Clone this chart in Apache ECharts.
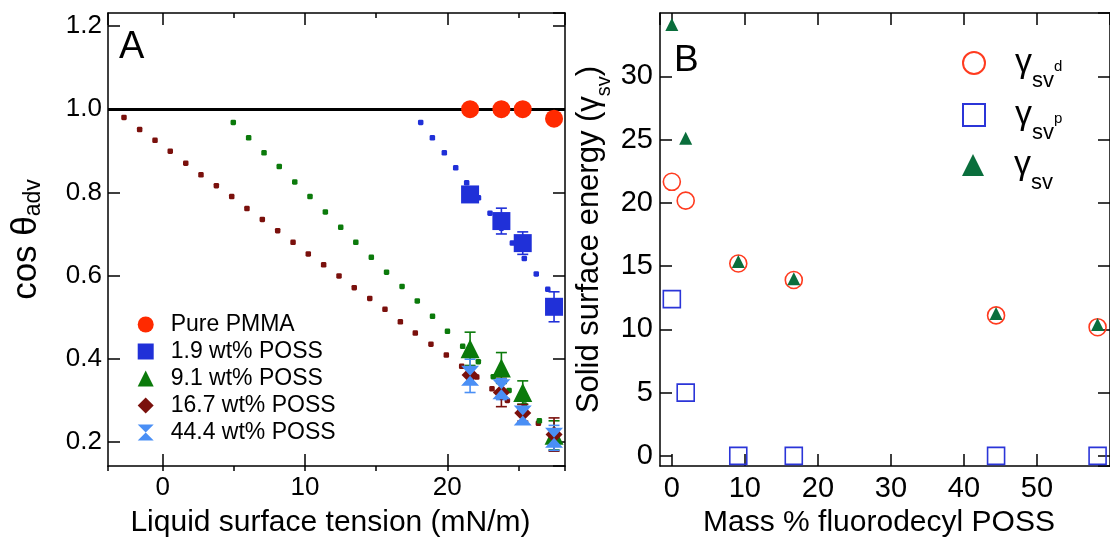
<!DOCTYPE html>
<html>
<head>
<meta charset="utf-8">
<script src="https://cdn.jsdelivr.net/npm/echarts@6/dist/echarts.min.js"></script>
<style>
html,body{margin:0;padding:0;background:#fff;}
#chart{width:1110px;height:543px;}
</style>
</head>
<body>
<div id="chart"></div>
<script>
// ---------- Panel A data ----------
const liquidTension = [21.6, 23.8, 25.3, 27.5];
const pmma = [1.0, 1.0, 1.0, 0.977];
const poss19 = [0.795, 0.731, 0.678, 0.525];
const err19 = [0.008, 0.031, 0.027, 0.036];
const poss91 = [0.424, 0.378, 0.319, 0.216];
const err91 = [0.040, 0.037, 0.028, 0.035];
const poss167 = [0.361, 0.319, 0.270, 0.218];
const err167 = [0.020, 0.034, 0.020, 0.040];
const poss444 = [0.359, 0.327, 0.264, 0.210];
const err444 = [0.040, 0.025, 0.015, 0.030];

// dotted prediction curves
const fit167X = [-2.72,-1.62,-0.54,0.53,1.62,2.69,3.77,4.85,5.92,7.0,8.08,9.16,10.23,11.31,12.39,13.46,14.55,15.62,16.70,17.75,18.85,19.93,21.01,22.07,23.14,24.22,25.30,26.40,27.45];
const fit167Y = [0.980,0.951,0.925,0.899,0.870,0.842,0.816,0.790,0.761,0.735,0.708,0.680,0.652,0.626,0.599,0.571,0.545,0.519,0.489,0.462,0.435,0.409,0.382,0.356,0.328,0.300,0.271,0.245,0.218];
const fit91X = [4.96,6.04,7.12,8.19,9.28,10.35,11.43,12.51,13.57,14.66,15.73,16.82,17.89,18.96,20.01,21.08,22.18,23.23,24.34,25.41,26.47,27.52];
const fit91Y = [0.968,0.931,0.895,0.862,0.825,0.790,0.753,0.716,0.680,0.644,0.608,0.574,0.539,0.502,0.466,0.430,0.393,0.357,0.324,0.289,0.251,0.216];
const fit19X = [18.13,18.95,19.79,20.59,21.36,22.19,23.0,23.8,24.57,25.41,26.25,27.06,27.87];
const fit19Y = [0.968,0.931,0.895,0.859,0.823,0.787,0.750,0.714,0.678,0.641,0.604,0.567,0.531];

// ---------- Panel B data ----------
const massPct = [0, 1.9, 9.1, 16.7, 44.4, 58.3];
const gammaD = [21.66, 20.17, 15.2, 13.9, 11.1, 10.17];
const gammaP = [12.39, 5.0, 0, 0, 0, 0];
const gammaT = [34.1, 25.1, 15.36, 14.0, 11.26, 10.39];

// ---------- styling ----------
const FONT = '"Liberation Sans", Arial, Helvetica, sans-serif';
const C_PMMA = '#ff2a00', C_19 = '#2030d8', C_91 = '#0b7a0b', C_167 = '#7a100c', C_444 = '#4a8ff5';
const C_D = '#ff3b1f', C_P = '#2b35d8', C_T = '#0a6e3c';
const HOURGLASS = 'path://M0,0L10,0L5,5L10,10L0,10L5,5Z';

const zip = (xs, ys) => xs.map((x, i) => [x, ys[i]]);
const zip3 = (xs, ys, es) => xs.map((x, i) => [x, ys[i], es[i]]);

function errSeries(name, data, color) {
  return {
    name: name, type: 'custom', xAxisIndex: 0, yAxisIndex: 0, z: 3,
    data: data,
    renderItem: function (params, api) {
      const x = api.value(0), y = api.value(1), e = api.value(2);
      const t = api.coord([x, y + e]), b = api.coord([x, y - e]);
      const w = 5.5;
      const st = { stroke: color, lineWidth: 1.6 };
      return { type: 'group', children: [
        { type: 'line', shape: { x1: t[0], y1: t[1], x2: b[0], y2: b[1] }, style: st },
        { type: 'line', shape: { x1: t[0] - w, y1: t[1], x2: t[0] + w, y2: t[1] }, style: st },
        { type: 'line', shape: { x1: b[0] - w, y1: b[1], x2: b[0] + w, y2: b[1] }, style: st }
      ]};
    }
  };
}

function dots(name, data, color) {
  return { name: name, type: 'scatter', xAxisIndex: 0, yAxisIndex: 0, z: 2,
    symbol: 'roundRect', symbolSize: 5.5, itemStyle: { color: color, opacity: 1 }, data: data, silent: true };
}

const axLine = { show: true, onZero: false, lineStyle: { color: '#000', width: 1.5 } };
const noLine = { show: false, onZero: false };
function tick(len) { return { show: true, inside: true, length: len, lineStyle: { color: '#000', width: 1.5 } }; }
function vAxis(extra, range) {
  return Object.assign({ type: 'value', splitLine: { show: false }, scale: false }, range, extra);
}

const gA = { left: 108, top: 13, width: 457, height: 458 };
const gB = { left: 660, top: 13, width: 459.6, height: 457 };
const xRangeA = { min: -3.844, max: 28.27 };
const yRangeA = { min: 0.1424, max: 1.231 };
const xRangeB = { min: -1.62, max: 60 };
const yRangeB = { min: -0.8, max: 35.0 };
const hiddenLabel = { show: false };

const legendBRich = {
  g: { fontSize: 34, fontFamily: FONT, color: '#000', height: 36, lineHeight: 36, verticalAlign: 'middle' },
  s: { fontSize: 22, fontFamily: FONT, color: '#000', height: 1, lineHeight: 1, verticalAlign: 'bottom' },
  u: { fontSize: 15, fontFamily: FONT, color: '#000', height: 28, lineHeight: 28, verticalAlign: 'bottom' }
};
function legendB(name, fmt, top) {
  return { data: [name], orient: 'vertical', left: 957, top: top, itemWidth: 22, itemHeight: 22,
    formatter: () => fmt, selectedMode: false,
    textStyle: { color: '#000', fontFamily: FONT, padding: [0, 0, 0, 25], rich: legendBRich } };
}

const chart = echarts.init(document.getElementById('chart'), null, { renderer: 'canvas' });
const option = {
  backgroundColor: '#fff',
  animation: false,
  textStyle: { fontFamily: FONT },
  grid: [
    Object.assign({ containLabel: false }, gA),
    Object.assign({ containLabel: false }, gA),
    Object.assign({ containLabel: false }, gB)
  ],
  xAxis: [
    vAxis({ gridIndex: 0, position: 'bottom', axisLine: axLine, axisTick: tick(12), splitNumber: 3,
      axisLabel: { fontSize: 26, color: '#000', margin: 9, fontFamily: FONT, showMinLabel: false, showMaxLabel: false },
      name: 'Liquid surface tension (mN/m)', nameLocation: 'middle', nameGap: 42,
      nameTextStyle: { fontSize: 30, color: '#000', fontFamily: FONT, padding: [0, 12, 0, 0] } }, xRangeA),
    vAxis({ gridIndex: 0, position: 'top', axisLine: axLine, axisTick: tick(12), splitNumber: 3, axisLabel: hiddenLabel }, xRangeA),
    vAxis({ gridIndex: 1, position: 'bottom', axisLine: noLine, axisTick: tick(5), splitNumber: 6, axisLabel: hiddenLabel }, xRangeA),
    vAxis({ gridIndex: 1, position: 'top', axisLine: noLine, axisTick: tick(5), splitNumber: 6, axisLabel: hiddenLabel }, xRangeA),
    vAxis({ gridIndex: 2, position: 'bottom', axisLine: axLine, axisTick: tick(12), splitNumber: 6,
      axisLabel: { fontSize: 29, color: '#000', margin: 8, fontFamily: FONT, showMinLabel: false, showMaxLabel: false },
      name: 'Mass % fluorodecyl POSS', nameLocation: 'middle', nameGap: 42,
      nameTextStyle: { fontSize: 30, color: '#000', fontFamily: FONT, padding: [0, 12, 0, 0] } }, xRangeB),
    vAxis({ gridIndex: 2, position: 'top', axisLine: axLine, axisTick: tick(12), splitNumber: 6, axisLabel: hiddenLabel }, xRangeB)
  ],
  yAxis: [
    vAxis({ gridIndex: 0, position: 'left', axisLine: axLine, axisTick: tick(12), splitNumber: 5,
      axisLabel: { fontSize: 26, color: '#000', margin: 6, fontFamily: FONT, showMinLabel: false, showMaxLabel: false,
        formatter: v => Number(v).toFixed(1) },
      name: '{m|cos θ}{s|adv}', nameLocation: 'middle', nameGap: 62, nameRotate: 90,
      nameTextStyle: { color: '#000', rich: {
        m: { fontSize: 35, fontFamily: FONT, color: '#000', height: 40, lineHeight: 40, verticalAlign: 'middle' },
        s: { fontSize: 23, fontFamily: FONT, color: '#000', height: 24, lineHeight: 24, verticalAlign: 'bottom' } } } }, yRangeA),
    vAxis({ gridIndex: 0, position: 'right', axisLine: axLine, axisTick: tick(12), splitNumber: 5, axisLabel: hiddenLabel }, yRangeA),
    vAxis({ gridIndex: 1, show: false, axisLine: noLine }, yRangeA),
    vAxis({ gridIndex: 2, position: 'left', axisLine: axLine, axisTick: tick(12), splitNumber: 7,
      axisLabel: { fontSize: 29, color: '#000', margin: 7, fontFamily: FONT, showMinLabel: false, showMaxLabel: false },
      name: '{m|Solid surface energy (γ}{s|sv}{m|)}', nameLocation: 'middle', nameGap: 52, nameRotate: 90,
      nameTextStyle: { color: '#000', rich: {
        m: { fontSize: 31, fontFamily: FONT, color: '#000', height: 38, lineHeight: 38, verticalAlign: 'middle' },
        s: { fontSize: 20, fontFamily: FONT, color: '#000', height: 8, lineHeight: 8, verticalAlign: 'bottom' } } } }, yRangeB),
    vAxis({ gridIndex: 2, position: 'right', axisLine: axLine, axisTick: tick(12), splitNumber: 7, axisLabel: hiddenLabel }, yRangeB)
  ],
  legend: [
    { data: ['Pure PMMA', '1.9 wt% POSS', '9.1 wt% POSS', '16.7 wt% POSS', '44.4 wt% POSS'],
      orient: 'vertical', left: 132.7, top: 308, itemWidth: 16, itemHeight: 16, itemGap: 4,
      textStyle: { fontSize: 23, color: '#000', fontFamily: FONT, padding: [0, 0, 0, 12] },
      selectedMode: false },
    legendB('γsvd', '{g|γ}{s|sv}{u|d}', 40),
    legendB('γsvp', '{g|γ}{s|sv}{u|p}', 92),
    legendB('γsv', '{g|γ}{s|sv}', 142)
  ],
  graphic: [
    { type: 'text', left: 119, top: 29, style: { text: 'A', font: '38px ' + FONT, fill: '#000' } },
    { type: 'text', left: 674, top: 42, style: { text: 'B', font: '37px ' + FONT, fill: '#000' } }
  ],
  series: [
    { name: 'unity', type: 'line', xAxisIndex: 0, yAxisIndex: 0, data: [], silent: true,
      markLine: { silent: true, symbol: 'none', label: { show: false },
        lineStyle: { color: '#000', width: 3.2, type: 'solid' }, data: [{ yAxis: 1 }] } },
    dots('fit 16.7', zip(fit167X, fit167Y), C_167),
    dots('fit 9.1', zip(fit91X, fit91Y), C_91),
    dots('fit 1.9', zip(fit19X, fit19Y), C_19),
    errSeries('err 1.9', zip3(liquidTension, poss19, err19), C_19),
    errSeries('err 9.1', zip3(liquidTension, poss91, err91), C_91),
    errSeries('err 16.7', zip3(liquidTension, poss167, err167), C_167),
    errSeries('err 44.4', zip3(liquidTension, poss444, err444), C_444),
    { name: 'Pure PMMA', type: 'scatter', xAxisIndex: 0, yAxisIndex: 0, z: 5, symbol: 'circle', symbolSize: 18,
      itemStyle: { color: C_PMMA, opacity: 1 }, data: zip(liquidTension, pmma) },
    { name: '1.9 wt% POSS', type: 'scatter', xAxisIndex: 0, yAxisIndex: 0, z: 5, symbol: 'rect', symbolSize: 18,
      itemStyle: { color: C_19, opacity: 1 }, data: zip(liquidTension, poss19) },
    { name: '9.1 wt% POSS', type: 'scatter', xAxisIndex: 0, yAxisIndex: 0, z: 5, symbol: 'triangle', symbolSize: 19,
      itemStyle: { color: C_91, opacity: 1 }, data: zip(liquidTension, poss91) },
    { name: '16.7 wt% POSS', type: 'scatter', xAxisIndex: 0, yAxisIndex: 0, z: 5, symbol: 'diamond', symbolSize: 17,
      itemStyle: { color: C_167, opacity: 1 }, data: zip(liquidTension, poss167) },
    { name: '44.4 wt% POSS', type: 'scatter', xAxisIndex: 0, yAxisIndex: 0, z: 6, symbol: HOURGLASS, symbolSize: [18, 20],
      itemStyle: { color: C_444, opacity: 1 }, data: zip(liquidTension, poss444) },
    { name: 'γsvd', type: 'scatter', xAxisIndex: 4, yAxisIndex: 3, z: 5, symbol: 'circle', symbolSize: 17,
      itemStyle: { color: 'rgba(255,255,255,0)', borderColor: C_D, borderWidth: 1.6, opacity: 1 }, data: zip(massPct, gammaD) },
    { name: 'γsvp', type: 'scatter', xAxisIndex: 4, yAxisIndex: 3, z: 5, symbol: 'rect', symbolSize: 17,
      itemStyle: { color: 'rgba(255,255,255,0)', borderColor: C_P, borderWidth: 1.6, opacity: 1 }, data: zip(massPct, gammaP) },
    { name: 'γsv', type: 'scatter', xAxisIndex: 4, yAxisIndex: 3, z: 6, symbol: 'triangle', symbolSize: 13,
      itemStyle: { color: C_T, opacity: 1 }, data: zip(massPct, gammaT) }
  ]
};
chart.setOption(option);
</script>
</body>
</html>
